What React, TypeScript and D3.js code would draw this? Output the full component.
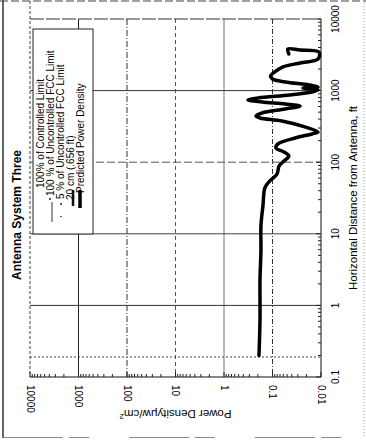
import React, { useEffect, useRef } from "react";
import * as d3 from "d3";

// power density axis (µW/cm²), runs right to left
const densityTicks = [10000, 1000, 100, 10, 1, 0.1, 0.01];
const densityLabels = ["10000", "1000", "100", "10", "1", "0.1", "0.01"];

// horizontal distance axis (ft), runs bottom to top
const distanceTicks = [0.1, 1, 10, 100, 1000, 10000];
const distanceLabels = ["0.1", "1", "10", "100", "1000", "10000"];

// dotted reference line across the plot
const referenceDistance = [0.19];

const legendLabels = [
  "100% of Controlled Limit",
  "100 % of Uncontrolled FCC Limit",
  "5 % of Uncontrolled FCC Limit",
  "20 cm (.656 ft)",
  "Predicted Power Density",
];

// predicted power density
const curveDistance = [
  0.2, 0.63, 2.3, 5.9, 13, 25, 44, 55, 68, 89, 104, 122, 139, 158, 180, 218,
  248, 264, 311, 376, 414, 442, 487, 553, 609, 650, 693, 739, 789, 869, 956,
  1020, 1087, 1122, 1197, 1318, 1452, 1600, 1820, 2140, 2430, 2760, 3460,
  3690, 3810, 3245,
];
const curveDensity = [
  0.19, 0.181, 0.181, 0.173, 0.173, 0.157, 0.143, 0.113, 0.081, 0.073, 0.058,
  0.046, 0.058, 0.085, 0.077, 0.034, 0.0153, 0.0115, 0.0214, 0.064, 0.181,
  0.219, 0.164, 0.055, 0.027, 0.055, 0.164, 0.32, 0.199, 0.044, 0.0153,
  0.0115, 0.0235, 0.0115, 0.0169, 0.055, 0.1, 0.11, 0.09, 0.061, 0.027,
  0.0115, 0.011, 0.027, 0.048, 0.046,
];

const W = 366;
const H = 445;
const FONT = "'Liberation Sans', Arial, sans-serif";

const App: React.FC = () => {
  const chartRef = useRef<SVGSVGElement | null>(null);

  useEffect(() => {
    if (!chartRef.current) return;
    const svg = d3.select(chartRef.current);
    svg.selectAll("*").remove();

    const x = d3.scaleLog().domain([10000, 0.01]).range([30, 321]);
    const y = d3.scaleLog().domain([0.1, 10000]).range([377, 19]);
    const [yBottom, yTop] = y.range();
    const [xLeft, xRight] = x.range();

    svg.append("rect").attr("width", W).attr("height", H).attr("fill", "#fff");

    // scanned page frame
    const frame = svg.append("g").attr("fill", "none");
    frame.append("line").attr("x1", 3).attr("x2", 3).attr("y1", 0).attr("y2", 438)
      .attr("stroke", "#333").attr("stroke-width", 1.5);
    frame.append("line").attr("x1", 0).attr("x2", W).attr("y1", 1).attr("y2", 1)
      .attr("stroke", "#444").attr("stroke-dasharray", "8,3");
    frame.append("line").attr("x1", 364).attr("x2", 364).attr("y1", 0).attr("y2", 438)
      .attr("stroke", "#999").attr("stroke-dasharray", "1,2");
    frame.append("line").attr("x1", 3).attr("x2", W).attr("y1", 437.5).attr("y2", 437.5)
      .attr("stroke", "#888").attr("stroke-dasharray", "60,6,20,40");

    const g = svg.append("g");

    // vertical grid (power density decades)
    const vStyle = [
      { c: "#444", d: "3,2" },
      { c: "#222", d: null },
      { c: "#333", d: "6,2,1,2" },
      { c: "#555", d: "4,3" },
      { c: "#777", d: null },
      { c: "#333", d: "5,2,1,2" },
      { c: "#111", d: null },
    ];
    g.selectAll("line.vgrid")
      .data(densityTicks)
      .enter()
      .append("line")
      .attr("x1", (d) => x(d))
      .attr("x2", (d) => x(d))
      .attr("y1", (d, i) => (i === 0 ? 1 : yTop))
      .attr("y2", yBottom)
      .attr("stroke", (d, i) => vStyle[i].c)
      .attr("stroke-dasharray", (d, i) => vStyle[i].d)
      .attr("stroke-width", 1);

    // horizontal grid (distance decades)
    const hStyle = [
      { c: "#111", d: null },
      { c: "#333", d: null },
      { c: "#444", d: null },
      { c: "#555", d: "8,3" },
      { c: "#333", d: null },
      { c: "#333", d: "14,2" },
    ];
    g.selectAll("line.hgrid")
      .data(distanceTicks)
      .enter()
      .append("line")
      .attr("x1", xLeft)
      .attr("x2", xRight)
      .attr("y1", (d) => y(d))
      .attr("y2", (d) => y(d))
      .attr("stroke", (d, i) => hStyle[i].c)
      .attr("stroke-dasharray", (d, i) => hStyle[i].d)
      .attr("stroke-width", 1);

    g.selectAll("line.ref")
      .data(referenceDistance)
      .enter()
      .append("line")
      .attr("x1", xLeft)
      .attr("x2", xRight)
      .attr("y1", (d) => y(d))
      .attr("y2", (d) => y(d))
      .attr("stroke", "#444")
      .attr("stroke-dasharray", "2,2");

    // minor ticks on the bottom and right borders
    const isDecade = (v: number) => Math.abs(Math.log10(v) - Math.round(Math.log10(v))) < 1e-6;
    g.selectAll("line.xt")
      .data(x.ticks())
      .enter()
      .append("line")
      .attr("x1", (d) => x(d))
      .attr("x2", (d) => x(d))
      .attr("y1", yBottom)
      .attr("y2", (d) => yBottom - (isDecade(d) ? 5 : 3))
      .attr("stroke", "#222");
    g.selectAll("line.yt")
      .data(y.ticks())
      .enter()
      .append("line")
      .attr("x1", xRight)
      .attr("x2", (d) => xRight - (isDecade(d) ? 5 : 3))
      .attr("y1", (d) => y(d))
      .attr("y2", (d) => y(d))
      .attr("stroke", "#222");

    // tick labels
    g.selectAll("text.xl")
      .data(densityTicks)
      .enter()
      .append("text")
      .attr("transform", (d) => `translate(${x(d)},385) rotate(90)`)
      .attr("dy", "0.35em")
      .attr("text-anchor", "start")
      .attr("font-family", FONT)
      .attr("font-size", 10)
      .text((d, i) => densityLabels[i]);

    g.selectAll("text.yl")
      .data(distanceTicks)
      .enter()
      .append("text")
      .attr("transform", (d) => `translate(335,${y(d)}) rotate(-90)`)
      .attr("dy", "0.35em")
      .attr("text-anchor", "middle")
      .attr("font-family", FONT)
      .attr("font-size", 10)
      .text((d, i) => distanceLabels[i]);

    // axis titles
    g.append("text")
      .attr("transform", `translate(353,${(yTop + yBottom) / 2}) rotate(-90)`)
      .attr("dy", "0.35em")
      .attr("text-anchor", "middle")
      .attr("font-family", FONT)
      .attr("font-size", 11.5)
      .text("Horizontal Distance from Antenna, ft");

    const pd = g.append("text")
      .attr("transform", `translate(${(xLeft + xRight) / 2},410) rotate(180)`)
      .attr("text-anchor", "middle")
      .attr("font-family", FONT)
      .attr("font-size", 11.5)
      .text("Power Densityμw/cm");
    pd.append("tspan").attr("baseline-shift", "super").attr("font-size", 8).text("2");

    g.append("text")
      .attr("transform", "translate(17,215) rotate(-90)")
      .attr("dy", "0.35em")
      .attr("text-anchor", "middle")
      .attr("font-family", FONT)
      .attr("font-weight", "bold")
      .attr("font-size", 12)
      .text("Antenna System Three");

    // predicted power density curve
    const pts = curveDistance.map((d, i) => [x(curveDensity[i]), y(d)] as [number, number]);
    g.append("path")
      .attr("d", d3.line().curve(d3.curveCatmullRom.alpha(0.5))(pts))
      .attr("fill", "none")
      .attr("stroke", "#000")
      .attr("stroke-width", 3.5)
      .attr("stroke-linejoin", "round")
      .attr("stroke-linecap", "round");

    // legend
    const lg = g.append("g");
    lg.append("rect")
      .attr("x", 33)
      .attr("y", 29)
      .attr("width", 60)
      .attr("height", 205)
      .attr("fill", "#fff")
      .attr("stroke", "#222");
    const rowX = [44, 54, 64, 74, 84];
    const rowStart = [188, 196, 199, 200, 193];
    lg.selectAll("text")
      .data(legendLabels)
      .enter()
      .append("text")
      .attr("transform", (d, i) => `translate(${rowX[i]},${rowStart[i]}) rotate(-90)`)
      .attr("font-family", FONT)
      .attr("font-size", 10)
      .text((d) => d);
    lg.append("line").attr("x1", 52).attr("x2", 52).attr("y1", 202).attr("y2", 222)
      .attr("stroke", "#555").attr("stroke-width", 1.2);
    lg.append("circle").attr("cx", 50).attr("cy", 199).attr("r", 1).attr("fill", "#222");
    lg.append("line").attr("x1", 61).attr("x2", 61).attr("y1", 203).attr("y2", 217)
      .attr("stroke", "#222").attr("stroke-width", 1.5).attr("stroke-dasharray", "2,11");
    lg.append("line").attr("x1", 73).attr("x2", 73).attr("y1", 190).attr("y2", 206)
      .attr("stroke", "#111").attr("stroke-width", 2.5);
    lg.append("line").attr("x1", 80).attr("x2", 80).attr("y1", 190).attr("y2", 208)
      .attr("stroke", "#000").attr("stroke-width", 3.5);
  }, []);

  return (
    <svg
      ref={chartRef}
      width={W}
      height={H}
      style={{ position: "absolute", left: 0, top: 0, background: "#fff" }}
    />
  );
};

export default App;
